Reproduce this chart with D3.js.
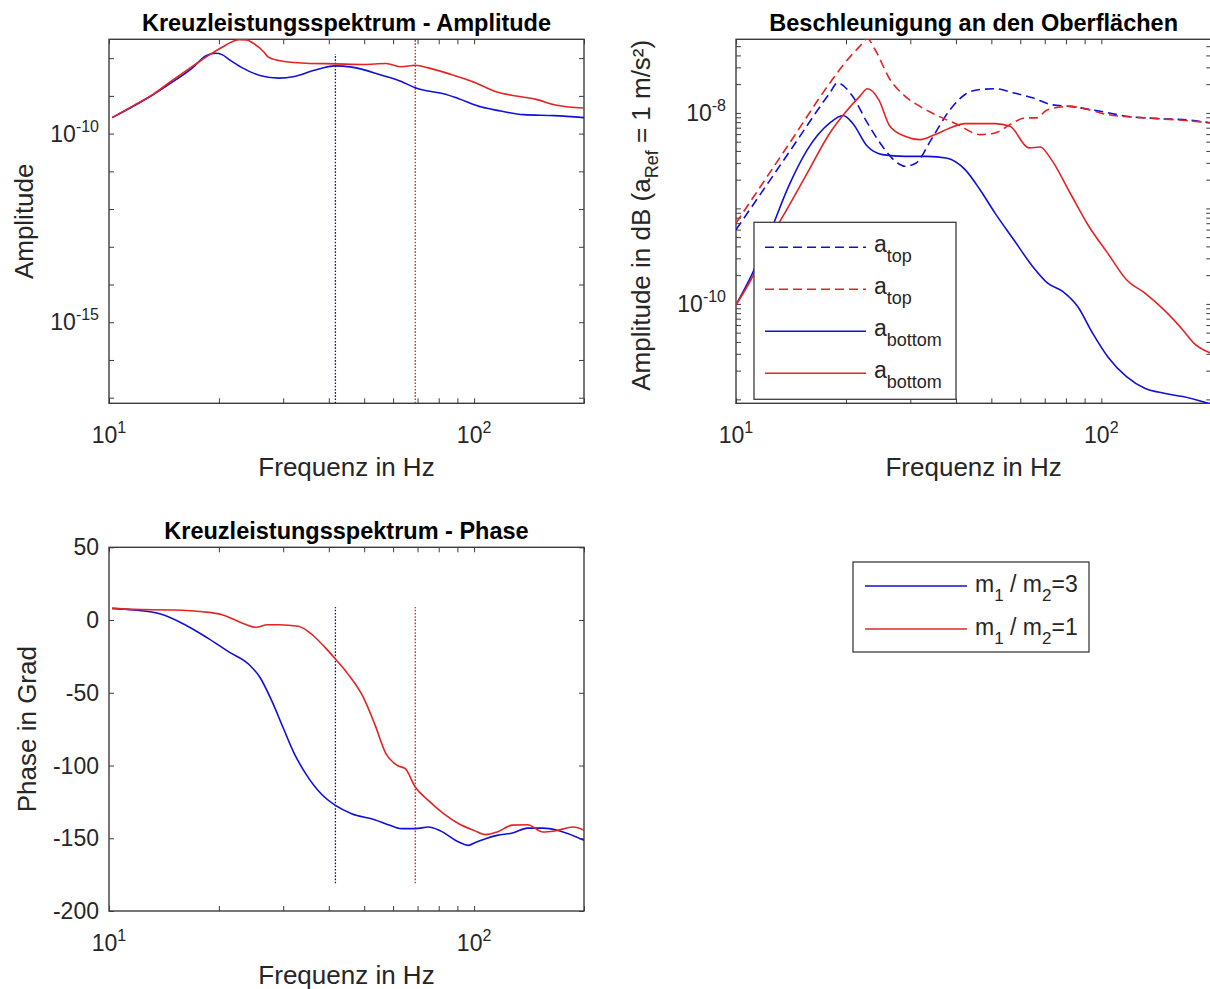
<!DOCTYPE html>
<html>
<head>
<meta charset="utf-8">
<script src="https://cdn.jsdelivr.net/npm/d3@7/dist/d3.min.js"></script>
<style>
  body { margin: 0; background: #fff; }
  svg { font-family: "Liberation Sans", Arial, Helvetica, sans-serif; }
  text { white-space: pre; }
</style>
</head>
<body>
<script>
"use strict";

// ---- data ----
var freqDomain = [10, 200];
var freqTicks = [10, 20, 30, 40, 50, 60, 70, 80, 90, 100, 200];
var freqLabelTicks = [10, 100];

// Kreuzleistungsspektrum - Amplitude
var ampFreqBlue = [10.2, 13.2, 14.9, 16.8, 18.5, 19.6, 20.4, 21.4, 23.0, 25.9, 29.2, 32.2, 36.3, 41.7, 46.2, 56.1, 63.2, 69.0, 74.9, 82.5, 90.8, 104.9, 115.6, 136.8, 165.9, 200];
var ampBlue = [2.65e-10, 1.07e-9, 2.31e-9, 5.2e-9, 1.17e-8, 1.35e-8, 1.24e-8, 9.0e-9, 5.77e-9, 3.47e-9, 2.95e-9, 3.27e-9, 4.71e-9, 6.25e-9, 5.77e-9, 3.47e-9, 2.41e-9, 1.64e-9, 1.34e-9, 1.14e-9, 8.4e-10, 5.06e-10, 4.13e-10, 3.18e-10, 2.99e-10, 2.65e-10];
var ampFreqRed = [10.2, 11.7, 13.2, 14.9, 16.8, 18.7, 20.4, 21.9, 22.7, 23.8, 25.0, 26.6, 27.2, 29.2, 34.6, 41.7, 49.7, 57.4, 63.2, 69.0, 74.9, 86.5, 100, 115.6, 130.4, 147.1, 165.9, 200];
var ampRed = [2.65e-10, 5.6e-10, 1.1e-9, 2.56e-9, 5.77e-9, 1.17e-8, 1.95e-8, 2.8e-8, 3.1e-8, 3.05e-8, 2.38e-8, 1.44e-8, 1.1e-8, 8.65e-9, 7.34e-9, 7.07e-9, 6.78e-9, 7.19e-9, 5.9e-9, 6.5e-9, 5.53e-9, 3.69e-9, 2.31e-9, 1.26e-9, 9.9e-10, 8.2e-10, 5.83e-10, 4.77e-10];
var ampDomain = [7.1e-18, 3.16e-8];
var ampTicks = [1e-17, 1e-16, 1e-15, 1e-14, 1e-13, 1e-12, 1e-11, 1e-10, 1e-9, 1e-8];
var ampLabelTicks = [1e-15, 1e-10];

// resonance markers (dotted lines)
var markerFreq = [41.7, 69.0];
var markerAmpTop = [1.29e-8, 3.16e-8];
var markerPhase = [-181, 9];

// Kreuzleistungsspektrum - Phase
var phaseFreqBlue = [10.2, 11.7, 13.85, 16.0, 18.5, 21.4, 24.1, 25.9, 27.9, 29.95, 32.2, 34.6, 38.1, 41.7, 46.2, 53.4, 58.8, 63.2, 69.0, 74.9, 80.5, 90.8, 96.4, 100, 107.5, 115.6, 127.3, 140.2, 154.3, 170, 200];
var phaseBlue = [8.0, 6.9, 4.1, -2.7, -11.9, -22.2, -30.2, -39.3, -55.4, -73.7, -92, -105.7, -119.4, -127.4, -133.1, -137.2, -141.1, -143.4, -143.4, -142.3, -144.6, -152.6, -154.9, -153.2, -150.3, -148, -146.4, -143, -143, -144.6, -151.4];
var phaseFreqRed = [10.2, 11.7, 14.9, 18.05, 20.4, 23.5, 25.3, 27.2, 29.2, 33.0, 36.3, 39.05, 41.7, 45.1, 49.7, 53.4, 57.4, 61.7, 64.8, 69.0, 74.9, 82.5, 90.8, 100, 107.5, 115.6, 127.3, 140.2, 154.3, 165.9, 187.2, 200];
var phaseRed = [8.0, 7.3, 6.9, 5.7, 3.7, -2.7, -5.0, -3.2, -3.2, -4.3, -10.8, -18.8, -26.8, -37, -53, -71.4, -92, -100, -102.2, -114.8, -124, -133, -140, -144.6, -147.5, -145.7, -141, -140.7, -145.7, -145, -142.3, -144.6];
var phaseDomain = [-200, 50];
var phaseTicks = [-200, -150, -100, -50, 0, 50];

// Beschleunigung an den Oberflaechen
var accFreqTopBlue = [10, 13.93, 18.07, 18.95, 20.83, 22.89, 25.17, 27.67, 29.0, 31.13, 34.22, 38.53, 42.36, 46.56, 51.18, 57.6, 64.85, 73.0, 82.15, 99.3, 117.2, 131.9, 148.5, 167.1, 200];
var accTopBlue = [5.97e-10, 3.8e-9, 1.62e-8, 2.06e-8, 1.5e-8, 7.85e-9, 4.47e-9, 2.99e-9, 2.76e-9, 2.99e-9, 5.25e-9, 1.08e-8, 1.56e-8, 1.76e-8, 1.79e-8, 1.62e-8, 1.44e-8, 1.22e-8, 1.17e-8, 1.04e-8, 9.23e-9, 8.87e-9, 8.65e-9, 8.51e-9, 7.85e-9];
var accFreqTopRed = [10, 13.93, 18.07, 19.86, 21.84, 22.89, 24.01, 26.39, 29.0, 31.88, 35.89, 40.4, 46.56, 51.18, 56.27, 61.84, 66.4, 71.29, 82.15, 92.5, 104.1, 131.9, 167.1, 200];
var accTopRed = [7.02e-10, 4.66e-9, 2.06e-8, 3.34e-8, 5.0e-8, 5.97e-8, 4.61e-8, 2.24e-8, 1.5e-8, 1.17e-8, 9.23e-9, 7.55e-9, 5.93e-9, 6.17e-9, 7.55e-9, 8.87e-9, 8.87e-9, 1.08e-8, 1.17e-8, 1.08e-8, 9.6e-9, 8.87e-9, 8.37e-9, 7.85e-9];
var accFreqBottomBlue = [10, 10.99, 12.37, 13.93, 15.68, 18.07, 19.63, 20.83, 22.89, 25.17, 29.0, 33.43, 37.62, 42.36, 46.56, 51.18, 57.6, 64.85, 71.29, 78.35, 86.14, 94.71, 104.1, 117.2, 131.9, 148.5, 167.1, 200];
var accBottomBlue = [9.77e-11, 1.94e-10, 5.51e-10, 1.7e-9, 4.12e-9, 7.85e-9, 9.38e-9, 7.85e-9, 4.47e-9, 3.66e-9, 3.51e-9, 3.51e-9, 3.37e-9, 2.55e-9, 1.57e-9, 8.93e-10, 4.69e-10, 2.47e-10, 1.65e-10, 1.35e-10, 9.38e-11, 4.92e-11, 2.8e-11, 1.73e-11, 1.3e-11, 1.16e-11, 1.07e-11, 8.9e-12];
var accFreqBottomRed = [10, 10.99, 12.37, 13.93, 15.68, 18.07, 19.86, 21.84, 22.89, 24.58, 26.39, 29.0, 31.88, 35.04, 38.53, 42.36, 51.18, 56.27, 63.33, 67.99, 73.0, 82.15, 92.5, 104.1, 117.2, 131.9, 148.5, 167.1, 179.4, 200];
var accBottomRed = [9.77e-11, 1.79e-10, 4.69e-10, 1.05e-9, 2.35e-9, 6.17e-9, 1.0e-8, 1.5e-8, 1.79e-8, 1.38e-8, 7.24e-9, 5.69e-9, 5.25e-9, 5.93e-9, 6.97e-9, 7.73e-9, 7.73e-9, 7.24e-9, 4.3e-9, 4.4e-9, 3.24e-9, 1.45e-9, 6.47e-10, 3.4e-10, 1.79e-10, 1.29e-10, 8.65e-11, 5.34e-11, 3.86e-11, 3.04e-11];
var accDomain = [9.1e-12, 5.9e-8];
var accLabelTicks = [1e-10, 1e-8];
var accTicks = [];
[-12, -11, -10, -9, -8].forEach(function(k){
	for (var m = 1; m <= 9; m++) accTicks.push(m * Math.pow(10, k));
});

var accLegend = ["top", "top", "bottom", "bottom"];
var massLegend = ["3", "1"];

// ---- styling ----
var BLUE = "#1010d8", RED = "#e42424";
var BLUE_DOT = "#12127a", RED_DOT = "#d82020";
var AXIS = "#3c3c3c", TXT = "#262626";
var TITLE_SIZE = 23.5, LABEL_SIZE = 26, TICK_SIZE = 23;

var svg = d3.select("body").append("svg")
	.attr("width", 1210).attr("height", 989);

function supText(sel, base, exp, size){
	sel.append("tspan").text(base);
	sel.append("tspan").attr("dy", -10).attr("font-size", size).text(exp);
}

function inside(scale, vals){
	var d = scale.domain();
	var lo = Math.min(d[0], d[1]), hi = Math.max(d[0], d[1]);
	return vals.filter(function(v){ return v >= lo && v <= hi; });
}

function panel(p){
	var g = svg.append("g").attr("transform", "translate(" + p.left + "," + p.top + ")");
	g.append("clipPath").attr("id", p.id).append("rect")
		.attr("width", p.width).attr("height", p.height);

	var xt = inside(p.x, p.xt), yt = inside(p.y, p.yt);
	function tickStyle(a){
		a.select(".domain").remove();
		a.selectAll(".tick line").attr("stroke", AXIS).attr("stroke-width", 1);
	}
	g.append("g").attr("transform", "translate(0," + p.height + ")")
		.call(d3.axisBottom(p.x).tickValues(xt).tickSize(-5).tickFormat("")).call(tickStyle);
	g.append("g").call(d3.axisTop(p.x).tickValues(xt).tickSize(-5).tickFormat("")).call(tickStyle);
	g.append("g").call(d3.axisLeft(p.y).tickValues(yt).tickSize(-5).tickFormat("")).call(tickStyle);
	g.append("g").attr("transform", "translate(" + p.width + ",0)")
		.call(d3.axisRight(p.y).tickValues(yt).tickSize(-5).tickFormat("")).call(tickStyle);

	g.append("rect").attr("width", p.width).attr("height", p.height)
		.attr("fill", "none").attr("stroke", AXIS).attr("stroke-width", 1.4);

	// x tick labels (10^n)
	freqLabelTicks.forEach(function(v){
		var t = g.append("text").attr("x", p.x(v)).attr("y", p.height + 40)
			.attr("text-anchor", "middle").attr("font-size", TICK_SIZE).attr("fill", TXT);
		supText(t, "10", String(Math.round(Math.log10(v))), 16);
	});

	g.append("text").attr("x", p.width / 2).attr("y", -8.5)
		.attr("text-anchor", "middle").attr("font-size", TITLE_SIZE).attr("font-weight", "bold")
		.attr("fill", "#000").text(p.title);

	g.append("text").attr("x", p.width / 2).attr("y", p.height + 73)
		.attr("text-anchor", "middle").attr("font-size", LABEL_SIZE).attr("fill", TXT)
		.text("Frequenz in Hz");

	p.g = g;
	p.plot = g.append("g").attr("clip-path", "url(#" + p.id + ")");
	return p;
}

function logYLabels(p, vals){
	vals.forEach(function(v){
		var t = p.g.append("text").attr("x", -10).attr("y", p.y(v) + 8)
			.attr("text-anchor", "end").attr("font-size", TICK_SIZE).attr("fill", TXT);
		supText(t, "10", String(Math.round(Math.log10(v))), 16);
	});
}

function curve(p, fx, vy, color, dash){
	var pts = fx.map(function(f, i){ return [f, vy[i]]; });
	var line = d3.line()
		.x(function(d){ return p.x(d[0]); })
		.y(function(d){ return p.y(d[1]); })
		.curve(d3.curveMonotoneX);
	p.plot.append("path").datum(pts).attr("d", line)
		.attr("fill", "none").attr("stroke", color).attr("stroke-width", 1.6)
		.attr("stroke-dasharray", dash ? "9,5" : null);
}

function marker(p, f, lo, hi, color){
	p.plot.append("line")
		.attr("x1", p.x(f)).attr("x2", p.x(f))
		.attr("y1", p.y(lo)).attr("y2", p.y(hi))
		.attr("stroke", color).attr("stroke-width", 1.3).attr("stroke-dasharray", "1.6,1.6");
}

// ---- panel 1: amplitude ----
var amp = panel({
	id: "clipAmp", left: 109, top: 39.3, width: 475, height: 364,
	title: "Kreuzleistungsspektrum - Amplitude",
	x: d3.scaleLog().domain(freqDomain).range([0, 475]),
	y: d3.scaleLog().domain(ampDomain).range([364, 0]),
	xt: freqTicks, yt: ampTicks
});
logYLabels(amp, ampLabelTicks);
amp.g.append("text").attr("transform", "translate(-76," + amp.height / 2 + ") rotate(-90)")
	.attr("text-anchor", "middle").attr("font-size", LABEL_SIZE).attr("fill", TXT).text("Amplitude");
marker(amp, markerFreq[0], ampDomain[0], markerAmpTop[0], BLUE_DOT);
marker(amp, markerFreq[1], ampDomain[0], markerAmpTop[1], RED_DOT);
curve(amp, ampFreqBlue, ampBlue, BLUE, false);
curve(amp, ampFreqRed, ampRed, RED, false);

// ---- panel 2: acceleration ----
var acc = panel({
	id: "clipAcc", left: 736, top: 39.3, width: 475.3, height: 364,
	title: "Beschleunigung an den Oberflächen",
	x: d3.scaleLog().domain(freqDomain).range([0, 475.3]),
	y: d3.scaleLog().domain(accDomain).range([364, 0]),
	xt: freqTicks, yt: accTicks
});
logYLabels(acc, accLabelTicks);
var accLab = acc.g.append("text").attr("transform", "translate(-86," + (acc.height / 2 - 6) + ") rotate(-90)")
	.attr("text-anchor", "middle").attr("font-size", LABEL_SIZE).attr("fill", TXT);
accLab.append("tspan").text("Amplitude in dB (a");
accLab.append("tspan").attr("dy", 8).attr("font-size", 18).text("Ref");
accLab.append("tspan").attr("dy", -8).text(" = 1 m/s²)");

var accSeries = [
	{f: accFreqTopBlue, v: accTopBlue, c: BLUE, dash: true},
	{f: accFreqTopRed, v: accTopRed, c: RED, dash: true},
	{f: accFreqBottomBlue, v: accBottomBlue, c: BLUE, dash: false},
	{f: accFreqBottomRed, v: accBottomRed, c: RED, dash: false}
];
accSeries.forEach(function(s){ curve(acc, s.f, s.v, s.c, s.dash); });

// legend inside panel 2
var lg = acc.g.append("g").attr("transform", "translate(18,183)");
lg.append("rect").attr("width", 202).attr("height", 177)
	.attr("fill", "#fff").attr("stroke", AXIS).attr("stroke-width", 1.3);
accSeries.forEach(function(s, i){
	var yy = 25 + i * 42;
	lg.append("line").attr("x1", 11).attr("x2", 112).attr("y1", yy).attr("y2", yy)
		.attr("stroke", s.c).attr("stroke-width", 1.6).attr("stroke-dasharray", s.dash ? "9,5" : null);
	var t = lg.append("text").attr("x", 120).attr("y", yy + 5).attr("font-size", 23).attr("fill", TXT);
	t.append("tspan").text("a");
	t.append("tspan").attr("dy", 10).attr("font-size", 18).text(accLegend[i]);
});

// ---- panel 3: phase ----
var phase = panel({
	id: "clipPhase", left: 109, top: 547.3, width: 475, height: 363.7,
	title: "Kreuzleistungsspektrum - Phase",
	x: d3.scaleLog().domain(freqDomain).range([0, 475]),
	y: d3.scaleLinear().domain(phaseDomain).range([363.7, 0]),
	xt: freqTicks, yt: phaseTicks
});
phaseTicks.forEach(function(v){
	phase.g.append("text").attr("x", -10).attr("y", phase.y(v) + 8)
		.attr("text-anchor", "end").attr("font-size", TICK_SIZE).attr("fill", TXT).text(v);
});
phase.g.append("text").attr("transform", "translate(-73," + phase.height / 2 + ") rotate(-90)")
	.attr("text-anchor", "middle").attr("font-size", LABEL_SIZE).attr("fill", TXT).text("Phase in Grad");
marker(phase, markerFreq[0], markerPhase[0], markerPhase[1], BLUE_DOT);
marker(phase, markerFreq[1], markerPhase[0], markerPhase[1], RED_DOT);
curve(phase, phaseFreqBlue, phaseBlue, BLUE, false);
curve(phase, phaseFreqRed, phaseRed, RED, false);

// ---- stand-alone legend (bottom right) ----
var lg2 = svg.append("g").attr("transform", "translate(853,562)");
lg2.append("rect").attr("width", 236).attr("height", 90)
	.attr("fill", "#fff").attr("stroke", AXIS).attr("stroke-width", 1.3);
[BLUE, RED].forEach(function(c, i){
	var yy = 24 + i * 43;
	lg2.append("line").attr("x1", 12).attr("x2", 114).attr("y1", yy).attr("y2", yy)
		.attr("stroke", c).attr("stroke-width", 1.6);
	var t = lg2.append("text").attr("x", 122).attr("y", yy + 6).attr("font-size", 23).attr("fill", TXT);
	t.append("tspan").text("m");
	t.append("tspan").attr("dy", 9).attr("font-size", 17).text("1");
	t.append("tspan").attr("dy", -9).text(" / m");
	t.append("tspan").attr("dy", 9).attr("font-size", 17).text("2");
	t.append("tspan").attr("dy", -9).text("=" + massLegend[i]);
});
</script>
</body>
</html>
